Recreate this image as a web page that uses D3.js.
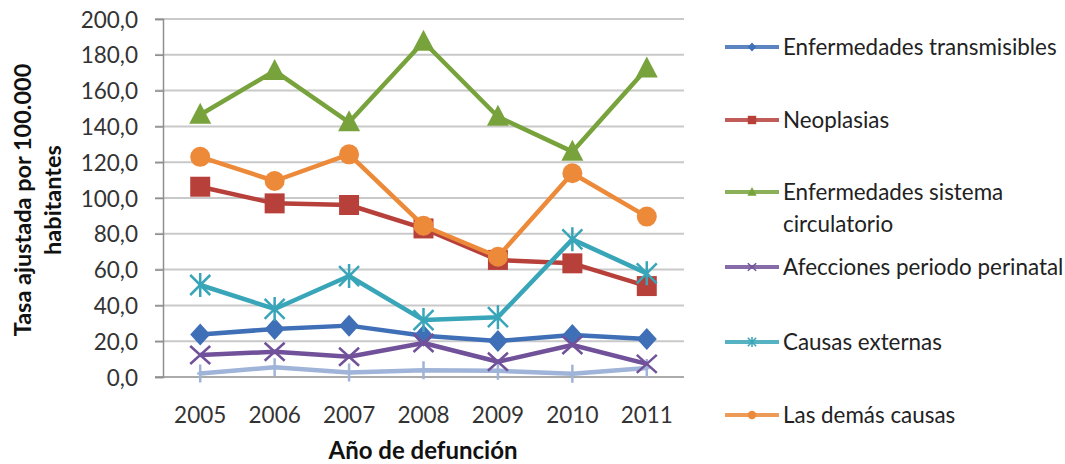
<!DOCTYPE html>
<html><head><meta charset="utf-8">
<script src="https://cdnjs.cloudflare.com/ajax/libs/d3/7.8.5/d3.min.js"></script>
<style>body{margin:0;background:#fff}svg{display:block}text{font-family:Lato,"Open Sans",sans-serif}</style>
</head><body><svg id="c" width="1065" height="464"></svg>
<script>
const years = ["2005","2006","2007","2008","2009","2010","2011"];
const yTicks = [0,20,40,60,80,100,120,140,160,180,200];
const transmisibles = [23.8,26.8,28.7,23.0,20.1,23.5,21.2];
const neoplasias = [106.3,97.0,96.1,83.0,65.4,63.5,50.8];
const circulatorio = [146.5,171.0,142.3,187.3,145.4,125.9,172.4];
const perinatal = [12.3,14.1,11.3,19.0,8.5,17.9,7.3];
const externas = [51.4,38.0,56.4,31.8,33.4,76.9,57.9];
const demas = [123.0,109.5,124.4,84.5,67.2,113.8,89.6];
const otras = [2.0,5.5,2.5,3.8,3.5,1.8,5.0];
const seriesNames = ["Enfermedades transmisibles","Neoplasias","Enfermedades sistema circulatorio","Afecciones periodo perinatal","Causas externas","Las demás causas"];

const series = [
  {name:null, values:otras, color:"#9fb4d8", marker:"plus"},
  {name:seriesNames[0], values:transmisibles, color:"#3f6fb6", marker:"diamond"},
  {name:seriesNames[1], values:neoplasias, color:"#b8403b", marker:"square"},
  {name:seriesNames[2], values:circulatorio, color:"#78a33c", marker:"triangle"},
  {name:seriesNames[3], values:perinatal, color:"#71529a", marker:"x"},
  {name:seriesNames[4], values:externas, color:"#38a5b8", marker:"star"},
  {name:seriesNames[5], values:demas, color:"#ec8a3a", marker:"circle"}
];
const svg = d3.select("#c");
const x = d3.scaleBand().domain(years).range([163,684]);
const y = d3.scaleLinear().domain([0,200]).range([377,19]);

// grid
svg.append("g").selectAll("line").data(yTicks.filter(d=>d>0)).join("line")
  .attr("x1",155).attr("x2",684).attr("y1",d=>y(d)).attr("y2",d=>y(d))
  .attr("stroke","#c9c9c9").attr("stroke-width",2);
// y axis
const ya = svg.append("g").attr("transform","translate(163,0)")
  .call(d3.axisLeft(y).tickValues(yTicks).tickSize(8).tickPadding(17).tickFormat(d=>d3.format(".1f")(d).replace(".",",")));
ya.select(".domain").attr("stroke","#8f8f8f").attr("stroke-width",1.5);
ya.selectAll(".tick line").attr("stroke","#8f8f8f").attr("stroke-width",1.5);
ya.selectAll("text").attr("font-size",22.5).attr("fill","#333").attr("dy","0.36em");
// x axis
const xa = svg.append("g").attr("transform","translate(0,"+y(0)+")")
  .call(d3.axisBottom(x).tickSize(0).tickPadding(30));
xa.select(".domain").attr("stroke","#8f8f8f").attr("stroke-width",1.5).attr("d","M155,0H684");
xa.selectAll("text").attr("font-size",22.5).attr("fill","#333");

// axis titles
svg.append("text").attr("x",423).attr("y",459).attr("text-anchor","middle")
  .attr("font-size",24).attr("font-weight","bold").attr("fill","#111").text("Año de defunción");
const yt = svg.append("text").attr("transform","translate(23,200) rotate(-90)").attr("text-anchor","middle")
  .attr("font-size",23.5).attr("font-weight","bold").attr("fill","#111");
yt.append("tspan").attr("x",0).attr("dy","0.35em").text("Tasa ajustada por 100.000");
yt.append("tspan").attr("x",0).attr("dy","1.25em").text("habitantes");

function markerPath(type, s){
  const k=s;
  switch(type){
    case "diamond": return `M0,${-11*k}L${10*k},0L0,${11*k}L${-10*k},0Z`;
    case "square": return `M${-10*k},${-10*k}h${20*k}v${20*k}h${-20*k}Z`;
    case "triangle": return `M0,${-12*k}L${11*k},${9*k}L${-11*k},${9*k}Z`;
    case "circle": return d3.symbol(d3.symbolCircle, Math.PI*100*k*k)();
    case "x": return `M${-10*k},${-9*k}L${10*k},${9*k}M${10*k},${-9*k}L${-10*k},${9*k}`;
    case "star": return `M${-10*k},${-10*k}L${10*k},${10*k}M${10*k},${-10*k}L${-10*k},${10*k}M0,${-12*k}V${12*k}`;
    case "plus": return `M0,${-9*k}V${9*k}M${-3*k},0H${3*k}`;
  }
}
const filled = t => ["diamond","square","triangle","circle"].includes(t);
const line = d3.line().x((d,i)=>x(years[i])+x.bandwidth()/2).y(d=>y(d));

const gS = svg.append("g");
series.forEach(s=>{
  const g = gS.append("g");
  g.append("path").attr("d",line(s.values)).attr("fill","none").attr("stroke",s.color).attr("stroke-width",4.5).attr("stroke-linejoin","round");
  g.selectAll("path.m").data(s.values).join("path").attr("class","m")
    .attr("transform",(d,i)=>`translate(${x(years[i])+x.bandwidth()/2},${y(d)})`)
    .attr("d",markerPath(s.marker,1))
    .attr("fill",filled(s.marker)?s.color:"none")
    .attr("stroke",s.color).attr("stroke-width",filled(s.marker)?0:2.5);
});

// legend
const legY = [47,120,192,267,342,415];
const lg = svg.append("g");
series.filter(s=>s.name).forEach((s,i)=>{
  const g = lg.append("g").attr("transform",`translate(0,${legY[i]})`);
  g.append("line").attr("x1",725).attr("x2",779).attr("stroke",s.color).attr("stroke-width",4).attr("opacity",0.85);
  g.append("path").attr("transform","translate(752,0)").attr("d",markerPath(s.marker,0.42))
    .attr("fill",filled(s.marker)?s.color:"none").attr("stroke",s.color).attr("stroke-width",filled(s.marker)?0:1.5);
  const t = g.append("text").attr("x",783).attr("font-size",22.4).attr("fill","#222");
  if(s.name==="Enfermedades sistema circulatorio"){
    t.append("tspan").attr("x",783).attr("dy","0.35em").text("Enfermedades sistema");
    t.append("tspan").attr("x",783).attr("dy","1.45em").text("circulatorio");
  } else {
    t.attr("dy","0.35em").text(s.name);
  }
});
</script></body></html>
